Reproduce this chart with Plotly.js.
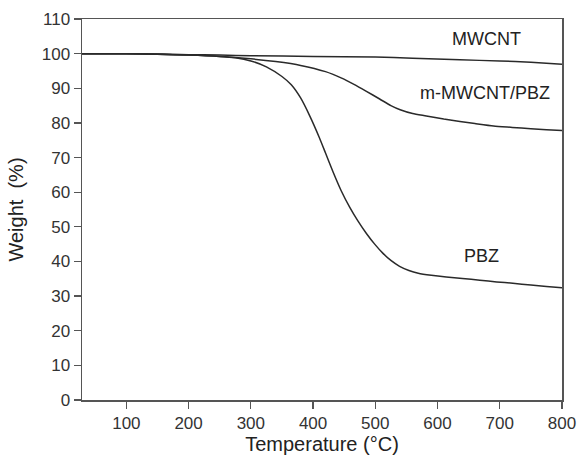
<!DOCTYPE html>
<html>
<head>
<meta charset="utf-8">
<script src="https://cdn.plot.ly/plotly-3.0.1.min.js"></script>
<style>html,body{margin:0;padding:0;background:#fff;}#chart{width:579px;height:462px;}</style>
</head>
<body>
<div id="chart"></div>
<script>
var tempMWCNT = [28, 120, 200, 250, 300, 400, 500, 560, 636, 700, 750, 800];
var wMWCNT = [100, 100, 99.7, 99.6, 99.4, 99.2, 99.0, 98.7, 98.2, 97.9, 97.5, 96.9];

var tempComposite = [28, 100, 150, 200, 250, 300, 340, 380, 420, 445, 465, 485, 507, 525, 540, 560, 582, 610, 636, 660, 690, 720, 750, 775, 800];
var wComposite = [100, 100, 99.8, 99.6, 99.2, 98.5, 97.7, 96.6, 94.8, 93.0, 91.2, 89.2, 86.9, 85.0, 83.8, 82.7, 82.0, 81.1, 80.4, 79.8, 79.1, 78.7, 78.3, 78.0, 77.8];

var tempPBZ = [28, 100, 150, 200, 250, 275, 300, 325, 350, 365, 380, 395, 410, 420, 432, 445, 459, 472, 486, 499, 512, 525, 539, 554, 569, 590, 614, 640, 668, 695, 721, 750, 775, 800];
var wPBZ = [100, 100, 99.8, 99.6, 99.2, 98.8, 97.9, 96.2, 93.4, 91.0, 87.2, 81.9, 75.8, 71.3, 65.9, 60.5, 55.6, 51.7, 48.0, 45.0, 42.4, 40.3, 38.6, 37.4, 36.6, 36.0, 35.5, 35.1, 34.6, 34.1, 33.7, 33.2, 32.8, 32.4];

var seriesNames = ["MWCNT", "m-MWCNT/PBZ", "PBZ"];
var labelT = [679, 676, 671];
var labelW = [104.2, 88.6, 41.6];

var xTicks = [100, 200, 300, 400, 500, 600, 700, 800];
var yTicks = [0, 10, 20, 30, 40, 50, 60, 70, 80, 90, 100, 110];

var fontFam = 'Liberation Sans, Arial, sans-serif';
var lineStyle = {color: '#2a2a2a', width: 1.5, shape: 'spline', smoothing: 0.6};
var traces = [
  {x: tempMWCNT, y: wMWCNT, name: seriesNames[0], mode: 'lines', line: lineStyle},
  {x: tempComposite, y: wComposite, name: seriesNames[1], mode: 'lines', line: lineStyle},
  {x: tempPBZ, y: wPBZ, name: seriesNames[2], mode: 'lines', line: lineStyle}
];

var annotations = seriesNames.map(function(n, i){
  return {x: labelT[i], y: labelW[i], xref: 'x', yref: 'y', text: n, showarrow: false,
    font: {family: fontFam, size: 18, color: '#222'}};
});

var axisCommon = {
  showline: true, linecolor: '#555', linewidth: 1.5, mirror: true,
  ticks: 'outside', ticklen: 7, tickwidth: 1.2, tickcolor: '#555',
  showgrid: false, zeroline: false,
  tickfont: {family: fontFam, size: 17, color: '#333'}
};

var layout = {
  width: 579, height: 462,
  margin: {l: 82, r: 17, t: 19, b: 62},
  paper_bgcolor: '#fff', plot_bgcolor: '#fff',
  showlegend: false,
  xaxis: Object.assign({}, axisCommon, {
    range: [28.7, 800], tickvals: xTicks, ticktext: xTicks.map(String),
    title: {text: 'Temperature (°C)', standoff: 3,
      font: {family: fontFam, size: 20, color: '#222'}}
  }),
  yaxis: Object.assign({}, axisCommon, {
    range: [0, 110], tickvals: yTicks, ticktext: yTicks.map(String),
    title: {text: 'Weight  (%)', standoff: 12,
      font: {family: fontFam, size: 20, color: '#222'}}
  }),
  annotations: annotations
};

Plotly.newPlot('chart', traces, layout, {displayModeBar: false, staticPlot: true});
</script>
</body>
</html>
